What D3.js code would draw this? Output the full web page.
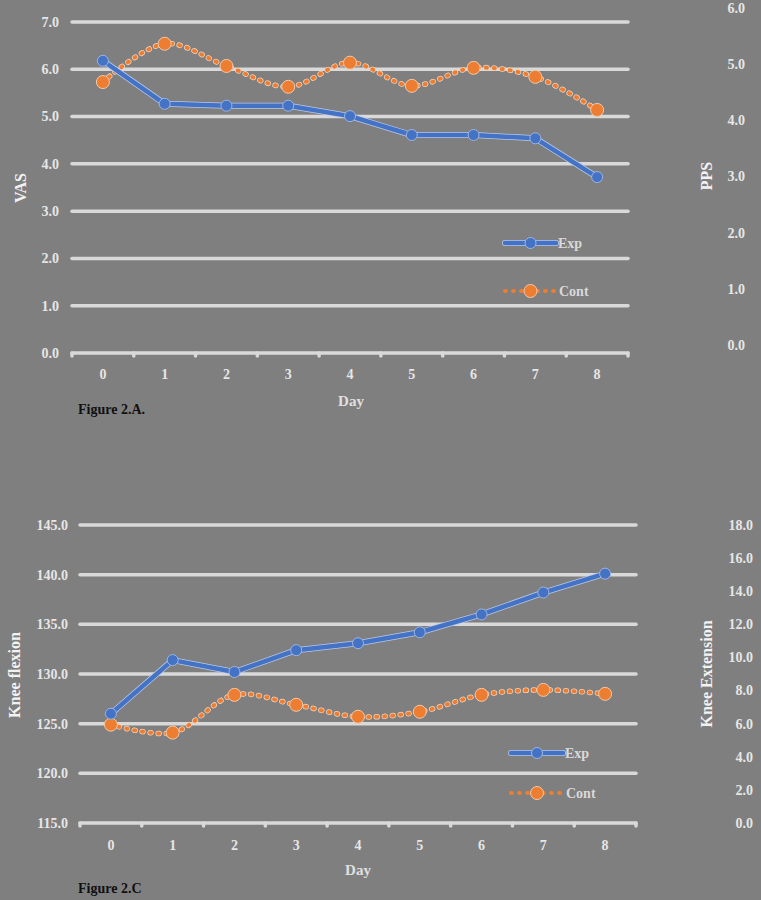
<!DOCTYPE html>
<html>
<head>
<meta charset="utf-8">
<script src="https://cdn.jsdelivr.net/npm/d3@7"></script>
<style>
  html, body { margin: 0; padding: 0; background: #7f7f7f; }
  svg { display: block; }
  text { font-family: "Liberation Serif", "DejaVu Serif", serif; }
</style>
</head>
<body>
<svg id="chart" width="761" height="900"></svg>
<script>
// ---------- DATA ----------
const days = ["0", "1", "2", "3", "4", "5", "6", "7", "8"];
const seriesNames = ["Exp", "Cont"];

// Figure 2.A – VAS
const vasExp  = [6.18, 5.27, 5.23, 5.23, 5.01, 4.61, 4.61, 4.54, 3.72];
const vasCont = [5.73, 6.54, 6.07, 5.63, 6.14, 5.65, 6.03, 5.84, 5.14];
const vasTicks = [0, 1, 2, 3, 4, 5, 6, 7];
const ppsTicks = [0, 1, 2, 3, 4, 5, 6];

// Figure 2.C – Knee flexion
const flexExp  = [126.0, 131.4, 130.2, 132.4, 133.1, 134.2, 136.0, 138.2, 140.1];
const flexCont = [124.9, 124.1, 127.9, 126.9, 125.7, 126.2, 127.9, 128.4, 128.0];
const flexTicks = [115, 120, 125, 130, 135, 140, 145];
const extTicks  = [0, 2, 4, 6, 8, 10, 12, 14, 16, 18];

const titles = {
  a: { left: "VAS", right: "PPS", x: "Day", fig: "Figure 2.A." },
  c: { left: "Knee flexion", right: "Knee Extension", x: "Day", fig: "Figure 2.C" }
};

// ---------- STYLE ----------
const BLUE = "#4472C4", ORANGE = "#ED7D31", GRID = "#d9d9d9", LABEL = "#e6e6e6";
const svg = d3.select("#chart");

function drawChart(cfg) {
  const g = svg.append("g");
  const x = d3.scaleBand().domain(days).range([cfg.x0, cfg.x1]).padding(0);
  const y = d3.scaleLinear().domain(cfg.yDomain).range([cfg.yBottom, cfg.yTop]);
  const y2 = d3.scaleLinear().domain(cfg.y2Domain).range([cfg.y2Bottom, cfg.y2Top]);
  const cx = d => x(d) + x.bandwidth() / 2;

  // gridlines
  g.selectAll(".grid").data(cfg.yTicks).join("line")
    .attr("x1", cfg.x0).attr("x2", cfg.x1)
    .attr("y1", d => y(d)).attr("y2", d => y(d))
    .attr("stroke", GRID).attr("stroke-width", 3.5).attr("stroke-linecap", "round");

  // category tick marks on axis
  const bounds = days.map(d => x(d)).concat([cfg.x1]);
  g.selectAll(".tick").data(bounds).join("line")
    .attr("x1", d => d).attr("x2", d => d)
    .attr("y1", cfg.yBottom).attr("y2", cfg.yBottom + 3)
    .attr("stroke", GRID).attr("stroke-width", 3.5).attr("stroke-linecap", "round");

  // left axis labels
  g.selectAll(".yl").data(cfg.yTicks).join("text")
    .attr("x", cfg.leftLabelX).attr("y", d => y(d)).attr("dy", "0.35em")
    .attr("text-anchor", "end").attr("font-size", 14).attr("font-weight", "bold")
    .attr("fill", LABEL).text(d => d.toFixed(1));

  // right axis labels
  g.selectAll(".yr").data(cfg.y2Ticks).join("text")
    .attr("x", cfg.rightLabelX).attr("y", d => y2(d)).attr("dy", "0.35em")
    .attr("text-anchor", "end").attr("font-size", 14).attr("font-weight", "bold")
    .attr("fill", LABEL).text(d => d.toFixed(1));

  // x labels
  g.selectAll(".xl").data(days).join("text")
    .attr("x", d => cx(d)).attr("y", cfg.xLabelY).attr("dy", "0.35em")
    .attr("text-anchor", "middle").attr("font-size", 14).attr("font-weight", "bold")
    .attr("fill", LABEL).text(d => d);

  // axis titles
  g.append("text").attr("transform", `translate(${cfg.leftTitle[0]},${cfg.leftTitle[1]}) rotate(-90)`)
    .attr("text-anchor", "middle").attr("dy", "0.35em").attr("font-size", 16).attr("font-weight", "bold")
    .attr("fill", "#f2f2f2").text(cfg.t.left);
  g.append("text").attr("transform", `translate(${cfg.rightTitle[0]},${cfg.rightTitle[1]}) rotate(-90)`)
    .attr("text-anchor", "middle").attr("dy", "0.35em").attr("font-size", 16).attr("font-weight", "bold")
    .attr("fill", "#f2f2f2").text(cfg.t.right);
  g.append("text").attr("x", cfg.dayPos[0]).attr("y", cfg.dayPos[1]).attr("dy", "0.35em")
    .attr("text-anchor", "middle").attr("font-size", 15).attr("font-weight", "bold")
    .attr("fill", "#e0e0e0").text(cfg.t.x);
  g.append("text").attr("x", cfg.figPos[0]).attr("y", cfg.figPos[1]).attr("dy", "0.35em")
    .attr("font-size", 14).attr("font-weight", "bold").attr("fill", "#111").text(cfg.t.fig);

  // series
  const lineStraight = d3.line().x((d, i) => cx(days[i])).y(d => y(d));
  const lineSmooth = d3.line().x((d, i) => cx(days[i])).y(d => y(d)).curve(d3.curveCatmullRom.alpha(0.5));

  // Cont (orange, dotted, smooth)
  g.append("path").datum(cfg.cont).attr("d", lineSmooth).attr("fill", "none")
    .attr("stroke", "#f6d2b8").attr("stroke-width", 5.5).attr("stroke-dasharray", "1 7")
    .attr("stroke-linecap", "round");
  g.append("path").datum(cfg.cont).attr("d", lineSmooth).attr("fill", "none")
    .attr("stroke", ORANGE).attr("stroke-width", 4).attr("stroke-dasharray", "1 7")
    .attr("stroke-linecap", "round");
  g.selectAll(".cm").data(cfg.cont).join("circle")
    .attr("cx", (d, i) => cx(days[i])).attr("cy", d => y(d)).attr("r", 6.5)
    .attr("fill", ORANGE).attr("stroke", "#f3c9a9").attr("stroke-width", 1);

  // Exp (blue, solid)
  g.append("path").datum(cfg.exp).attr("d", lineStraight).attr("fill", "none")
    .attr("stroke", "#b8c9ec").attr("stroke-width", 6).attr("stroke-linejoin", "round");
  g.append("path").datum(cfg.exp).attr("d", lineStraight).attr("fill", "none")
    .attr("stroke", BLUE).attr("stroke-width", 4.5).attr("stroke-linejoin", "round");
  g.selectAll(".em").data(cfg.exp).join("circle")
    .attr("cx", (d, i) => cx(days[i])).attr("cy", d => y(d)).attr("r", 5.5)
    .attr("fill", BLUE).attr("stroke", "#9db4e3").attr("stroke-width", 1);

  // legend
  const lg = g.append("g");
  const [lx0, lx1] = cfg.legendX;
  const lmid = (lx0 + lx1) / 2;
  // Exp
  lg.append("line").attr("x1", lx0).attr("x2", lx1).attr("y1", cfg.legendY[0]).attr("y2", cfg.legendY[0])
    .attr("stroke", "#b8c9ec").attr("stroke-width", 6).attr("stroke-linecap", "round");
  lg.append("line").attr("x1", lx0).attr("x2", lx1).attr("y1", cfg.legendY[0]).attr("y2", cfg.legendY[0])
    .attr("stroke", BLUE).attr("stroke-width", 4.5).attr("stroke-linecap", "round");
  lg.append("circle").attr("cx", lmid).attr("cy", cfg.legendY[0]).attr("r", 5.5)
    .attr("fill", BLUE).attr("stroke", "#9db4e3").attr("stroke-width", 1);
  lg.append("text").attr("x", lx1 + 2).attr("y", cfg.legendY[0]).attr("dy", "0.35em")
    .attr("font-size", 14).attr("font-weight", "bold").attr("fill", "#d9d9d9").text(seriesNames[0]);
  // Cont
  lg.append("line").attr("x1", lx0).attr("x2", lx1).attr("y1", cfg.legendY[1]).attr("y2", cfg.legendY[1])
    .attr("stroke", ORANGE).attr("stroke-width", 4).attr("stroke-dasharray", "1 7").attr("stroke-linecap", "round");
  lg.append("circle").attr("cx", lmid).attr("cy", cfg.legendY[1]).attr("r", 6.5)
    .attr("fill", ORANGE).attr("stroke", "#f3c9a9").attr("stroke-width", 1);
  lg.append("text").attr("x", lx1 + 3).attr("y", cfg.legendY[1]).attr("dy", "0.35em")
    .attr("font-size", 14).attr("font-weight", "bold").attr("fill", "#d9d9d9").text(seriesNames[1]);
}

drawChart({
  t: titles.a,
  x0: 72, x1: 628,
  yDomain: [0, 7], yBottom: 353, yTop: 22, yTicks: vasTicks,
  y2Domain: [0, 6], y2Bottom: 345, y2Top: 8, y2Ticks: ppsTicks,
  leftLabelX: 59, rightLabelX: 745, xLabelY: 374,
  leftTitle: [20, 188], rightTitle: [706, 176],
  dayPos: [351, 401], figPos: [78, 409],
  exp: vasExp, cont: vasCont,
  legendX: [505, 556], legendY: [243, 291]
});

drawChart({
  t: titles.c,
  x0: 80, x1: 636,
  yDomain: [115, 145], yBottom: 823, yTop: 525, yTicks: flexTicks,
  y2Domain: [0, 18], y2Bottom: 823, y2Top: 525, y2Ticks: extTicks,
  leftLabelX: 68, rightLabelX: 753, xLabelY: 845,
  leftTitle: [14, 675], rightTitle: [706, 674],
  dayPos: [358, 870], figPos: [78, 888],
  exp: flexExp, cont: flexCont,
  legendX: [511, 563], legendY: [753, 793]
});
</script>
</body>
</html>
